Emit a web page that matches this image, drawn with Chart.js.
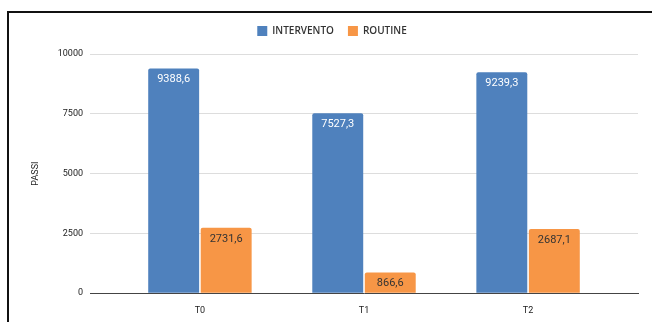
<!DOCTYPE html>
<html>
<head>
<meta charset="utf-8">
<script src="https://cdn.jsdelivr.net/npm/chart.js@4/dist/chart.umd.min.js"></script>
<style>
  html, body { margin: 0; padding: 0; background: #fff; }
  #wrap { position: relative; width: 652px; height: 322px; }
  #frame { position: absolute; left: 7px; top: 11px; right: 0; bottom: 0;
           border-top: 2px solid #111; border-left: 2px solid #111; pointer-events: none; }
  canvas { position: absolute; left: 0; top: 0; }
</style>
</head>
<body>
<div id="wrap">
  <canvas id="chart" width="652" height="322"></canvas>
  <div id="frame"></div>
</div>
<script>
// dati del grafico
const categories = ["T0", "T1", "T2"];
const intervento = [9388.6, 7527.3, 9239.3];
const routine = [2731.6, 866.6, 2687.1];
const yTicks = [0, 2500, 5000, 7500, 10000];

const fmt = v => v.toFixed(1).replace(".", ",");

// etichette dentro le barre, in alto
const valueLabels = {
  id: "valueLabels",
  afterDatasetsDraw(chart) {
    const ctx = chart.ctx;
    ctx.save();
    ctx.font = "11px Roboto";
    ctx.textAlign = "center";
    ctx.textBaseline = "middle";
    chart.data.datasets.forEach((ds, i) => {
      chart.getDatasetMeta(i).data.forEach((bar, j) => {
        ctx.fillStyle = i === 0 ? "#ffffff" : "#333333";
        ctx.fillText(fmt(ds.data[j].y), bar.x, bar.y + 11);
      });
    });
    ctx.restore();
  }
};

// piu spazio sotto la legenda
const legendGap = {
  id: "legendGap",
  beforeInit(chart) {
    const fit = chart.legend.fit;
    chart.legend.fit = function () {
      fit.call(this);
      this.height += 8;
    };
  }
};

const ctx = document.getElementById("chart").getContext("2d");
const chart = new Chart(ctx, {
  type: "bar",
  data: {
    datasets: [
      { label: "INTERVENTO", data: intervento.map((v, i) => ({ x: i, y: v })),
        backgroundColor: "#4f81bd", borderRadius: 2, borderSkipped: "bottom" },
      { label: "ROUTINE", data: routine.map((v, i) => ({ x: i, y: v })),
        backgroundColor: "#f79646", borderRadius: 2, borderSkipped: "bottom" }
    ]
  },
  options: {
    responsive: false,
    animation: false,
    categoryPercentage: 0.64,
    barPercentage: 0.97,
    layout: { padding: { left: 26, right: 14, top: 12, bottom: 2 } },
    plugins: {
      tooltip: { enabled: false },
      legend: {
        position: "top",
        labels: {
          boxWidth: 10, boxHeight: 10, padding: 14, color: "#333",
          font: { family: "Open Sans", size: 10, weight: "600" }
        }
      }
    },
    scales: {
      x: {
        type: "linear",
        offset: false,
        min: -0.67, max: 2.67,
        afterBuildTicks: s => { s.ticks = categories.map((c, i) => ({ value: i })); },
        ticks: { callback: v => categories[v], color: "#222", font: { family: "Roboto", size: 9 }, padding: 4 },
        grid: { display: false, offset: false },
        border: { display: true, color: "#444", width: 1 }
      },
      y: {
        min: 0, max: 10000,
        afterBuildTicks: s => { s.ticks = yTicks.map(v => ({ value: v })); },
        afterFit: s => { s.width = 64; },
        ticks: { callback: v => String(v), color: "#222", font: { family: "Roboto", size: 9 }, padding: 7 },
        grid: { color: "#dddddd", drawTicks: false },
        border: { display: false },
        title: { display: true, text: "PASSI", color: "#222", font: { family: "Roboto", size: 9 } }
      }
    }
  },
  plugins: [valueLabels, legendGap]
});
</script>
</body>
</html>
